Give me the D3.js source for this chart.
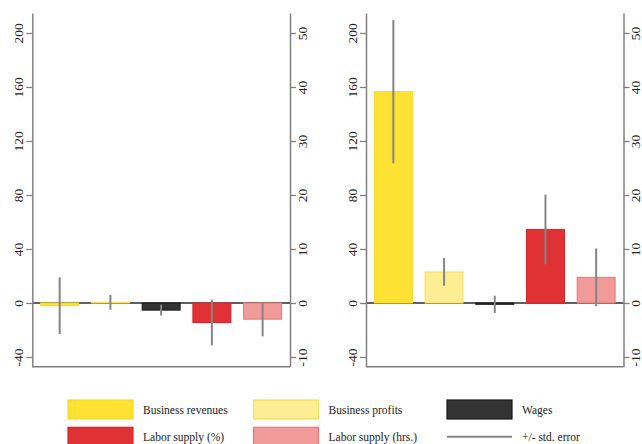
<!DOCTYPE html>
<html>
<head>
<meta charset="utf-8">
<script src="https://cdn.jsdelivr.net/npm/d3@7"></script>
<style>
  html, body { margin: 0; padding: 0; background: #fff; }
  svg { display: block; }
  text { font-family: "Liberation Serif", "Times New Roman", serif; fill: #222; }
</style>
</head>
<body>
<svg id="chart" width="642" height="444"></svg>
<script>
// Outcome categories, in bar order
const categories = ["Business revenues", "Business profits", "Wages", "Labor supply (%)", "Labor supply (hrs.)"];

// Left panel: point estimates and standard errors
const leftValues = [-2, 0.5, -5.3, -14.5, -12];
const leftErrors = [21, 5.5, 4, 17, 12.7];

// Right panel: point estimates and standard errors
const rightValues = [156.5, 23, -1, 54.5, 19];
const rightErrors = [53, 10.2, 6.4, 25.8, 21.4];

// Axis ticks (left axis in revenue units, right axis in labor units)
const leftTicks = [-40, 0, 40, 80, 120, 160, 200];
const rightTicks = [-10, 0, 10, 20, 30, 40, 50];

// Fill / outline per category
const fills = ["#fde233", "#fdee93", "#333333", "#e03234", "#f09a9a"];
const strokes = ["#f9dc1e", "#f9e05a", "#1a1a1a", "#d8222a", "#ec7777"];

const svg = d3.select("#chart");

const yTop = 13, yBottom = 366.7;
const y = d3.scaleLinear().domain([-47.2, 214.8]).range([yBottom, yTop]);
const yRight = d3.scaleLinear().domain([-47.2 / 4, 214.8 / 4]).range([yBottom, yTop]);

const panels = [
  { x0: 32.3, x1: 290, values: leftValues, errors: leftErrors },
  { x0: 366, x1: 623.5, values: rightValues, errors: rightErrors }
];

const axisColor = "#808080";
const plainNum = d => String(d); // ASCII hyphen for negatives

panels.forEach(p => {
  const g = svg.append("g");
  const x = d3.scaleBand().domain(categories).range([p.x0, p.x1])
    .paddingInner(0.251).paddingOuter(0.165);

  // zero reference line
  g.append("line")
    .attr("x1", p.x0).attr("x2", p.x1)
    .attr("y1", y(0)).attr("y2", y(0))
    .attr("stroke", "#2b2b2b").attr("stroke-width", 1.6);

  // bars
  g.selectAll("rect.bar").data(categories).join("rect")
    .attr("class", "bar")
    .attr("x", d => x(d))
    .attr("width", x.bandwidth())
    .attr("y", (d, i) => y(Math.max(0, p.values[i])))
    .attr("height", (d, i) => Math.abs(y(p.values[i]) - y(0)))
    .attr("fill", (d, i) => fills[i])
    .attr("stroke", (d, i) => strokes[i])
    .attr("stroke-width", 1);

  // standard error whiskers
  g.selectAll("line.err").data(categories).join("line")
    .attr("class", "err")
    .attr("x1", d => x(d) + x.bandwidth() / 2)
    .attr("x2", d => x(d) + x.bandwidth() / 2)
    .attr("y1", (d, i) => y(p.values[i] + p.errors[i]))
    .attr("y2", (d, i) => y(p.values[i] - p.errors[i]))
    .attr("stroke", "#858585").attr("stroke-width", 2);

  // left axis
  const la = g.append("g").attr("transform", `translate(${p.x0},0)`)
    .call(d3.axisLeft(y).tickValues(leftTicks).tickSize(6).tickSizeOuter(0).tickPadding(0).tickFormat(plainNum));
  // right axis
  const ra = g.append("g").attr("transform", `translate(${p.x1},0)`)
    .call(d3.axisRight(yRight).tickValues(rightTicks).tickSize(6).tickSizeOuter(0).tickPadding(0).tickFormat(plainNum));

  [la, ra].forEach(a => {
    a.select(".domain").attr("stroke", axisColor).attr("stroke-width", 1.5);
    a.selectAll(".tick line").attr("stroke", axisColor).attr("stroke-width", 1.3);
  });

  la.selectAll(".tick text")
    .attr("x", null).attr("dy", null)
    .attr("transform", "translate(-9,0) rotate(-90)")
    .attr("text-anchor", "middle")
    .style("font-family", "'Liberation Serif', serif")
    .style("font-size", "13.5px").style("fill", "#222");

  ra.selectAll(".tick text")
    .attr("x", null).attr("dy", null)
    .attr("transform", "translate(16.7,0) rotate(-90)")
    .attr("text-anchor", "middle")
    .style("font-family", "'Liberation Serif', serif")
    .style("font-size", "13.5px").style("fill", "#222");

  // bottom frame line
  g.append("line")
    .attr("x1", p.x0).attr("x2", p.x1)
    .attr("y1", yBottom).attr("y2", yBottom)
    .attr("stroke", axisColor).attr("stroke-width", 1.5);
});

// legend
const legendItems = [
  { label: categories[0], kind: "box", i: 0 },
  { label: categories[1], kind: "box", i: 1 },
  { label: categories[2], kind: "box", i: 2 },
  { label: categories[3], kind: "box", i: 3 },
  { label: categories[4], kind: "box", i: 4 },
  { label: "+/- std. error", kind: "line" }
];
const colX = [68, 253.5, 447];
const rowY = [400, 427.3];
const sw = 65, sh = 19;

const lg = svg.append("g");
legendItems.forEach((item, k) => {
  const cx = colX[k % 3], ry = rowY[Math.floor(k / 3)];
  if (item.kind === "box") {
    lg.append("rect")
      .attr("x", cx).attr("y", ry).attr("width", sw).attr("height", sh)
      .attr("fill", fills[item.i]).attr("stroke", strokes[item.i]).attr("stroke-width", 1.2);
  } else {
    lg.append("line")
      .attr("x1", cx).attr("x2", cx + sw)
      .attr("y1", ry + sh / 2).attr("y2", ry + sh / 2)
      .attr("stroke", "#858585").attr("stroke-width", 2);
  }
  lg.append("text")
    .attr("x", cx + 75).attr("y", ry + 14)
    .style("font-size", "11.5px")
    .text(item.label);
});
</script>
</body>
</html>
